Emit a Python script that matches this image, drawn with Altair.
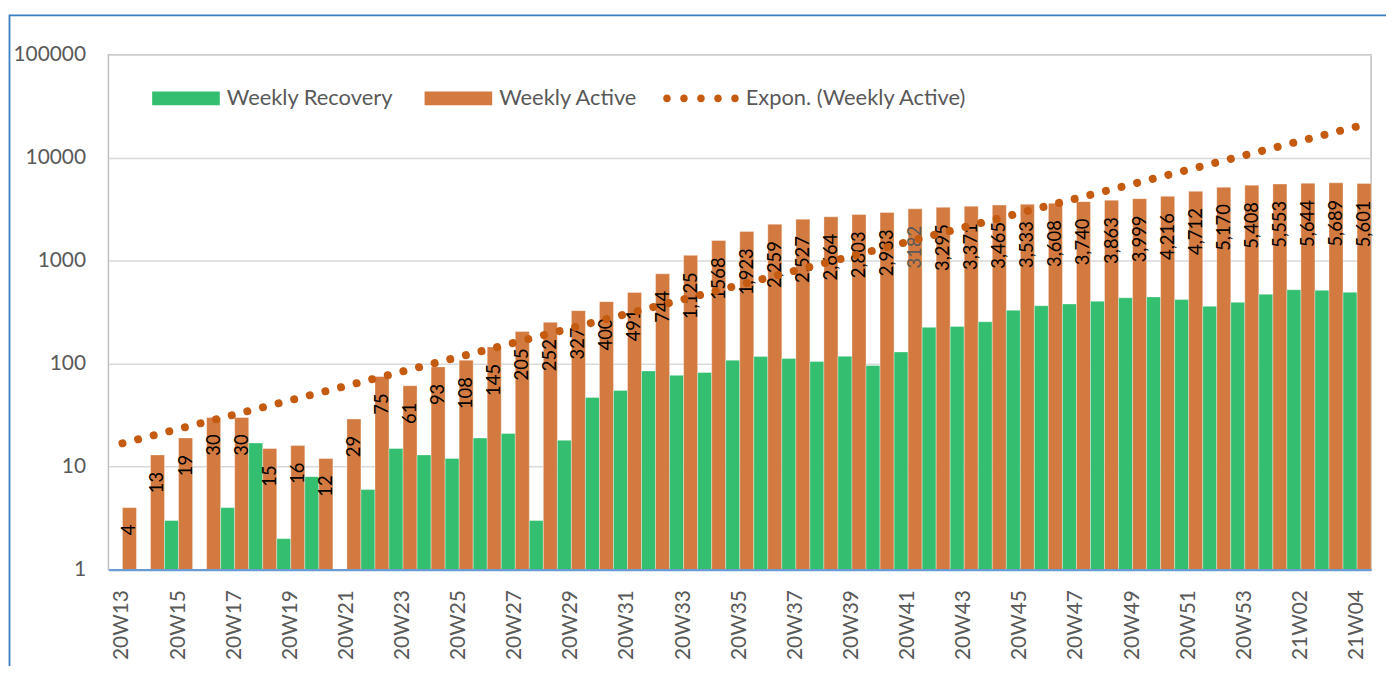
import altair as alt
import pandas as pd

weeks = ["20W13", "20W14", "20W15", "20W16", "20W17", "20W18", "20W19", "20W20",
         "20W21", "20W22", "20W23", "20W24", "20W25", "20W26", "20W27", "20W28",
         "20W29", "20W30", "20W31", "20W32", "20W33", "20W34", "20W35", "20W36",
         "20W37", "20W38", "20W39", "20W40", "20W41", "20W42", "20W43", "20W44",
         "20W45", "20W46", "20W47", "20W48", "20W49", "20W50", "20W51", "20W52",
         "20W53", "21W01", "21W02", "21W03", "21W04"]

weekly_recovery = [None, None, 3, None, 4, 17, 2, 8, None, 6, 15, 13, 12, 19, 21, 3,
                   18, 47, 55, 85, 77, 82, 108, 117, 112, 105, 118, 96, 130, 225, 230,
                   255, 330, 365, 380, 404, 436, 444, 419, 360, 394, 472, 522, 515, 493]

weekly_active = [4, 13, 19, 30, 30, 15, 16, 12, 29, 75, 61, 93, 108, 145, 205, 252,
                 327, 400, 491, 744, 1125, 1568, 1923, 2259, 2527, 2664, 2803, 2933,
                 3182, 3295, 3371, 3465, 3533, 3608, 3740, 3863, 3999, 4216, 4712,
                 5170, 5408, 5553, 5644, 5689, 5601]

active_labels = ["4", "13", "19", "30", "30", "15", "16", "12", "29", "75", "61", "93",
                 "108", "145", "205", "252", "327", "400", "491", "744", "1,125", "1568",
                 "1,923", "2,259", "2,527", "2,664", "2,803", "2,933", "3182", "3,295",
                 "3,371", "3,465", "3,533", "3,608", "3,740", "3,863", "3,999", "4,216",
                 "4,712", "5,170", "5,408", "5,553", "5,644", "5,689", "5,601"]

tick_weeks = ["20W13", "20W15", "20W17", "20W19", "20W21", "20W23", "20W25", "20W27",
              "20W29", "20W31", "20W33", "20W35", "20W37", "20W39", "20W41", "20W43",
              "20W45", "20W47", "20W49", "20W51", "20W53", "21W02", "21W04"]

y_ticks = [1, 10, 100, 1000, 10000, 100000]

series_names = ["Weekly Recovery", "Weekly Active"]
trend_name = "Expon. (Weekly Active)"

GREEN = "#33BF6F"
ORANGE = "#D27A40"
TREND = "#C55A11"
FONT = "Lato"

# wide table (labels + trend)
df = pd.DataFrame({
    "week": weeks,
    "active": weekly_active,
    "label": active_labels,
})

# long table (bars)
long_rows = []
for w, r, a in zip(weeks, weekly_recovery, weekly_active):
    if r is not None:
        long_rows.append({"week": w, "series": series_names[0], "value": r})
    long_rows.append({"week": w, "series": series_names[1], "value": a})
df_long = pd.DataFrame(long_rows)

x_scale = alt.Scale(type="band", domain=weeks, paddingInner=0, paddingOuter=0,
                    round=False, align=0.5)
y_scale = alt.Scale(type="log", domain=[1, 100000], nice=False)

x_axis = alt.Axis(values=tick_weeks, labelAngle=270, labelPadding=20, ticks=False,
                  domainColor="#6A9BD3", domainWidth=2.2, grid=False, title=None,
                  labelFont=FONT, labelFontSize=21, labelColor="#595959", zindex=2)
y_axis = alt.Axis(values=y_ticks, format="d", ticks=False, domain=False, grid=True,
                  gridColor="#D9D9D9", gridWidth=1.5, labelPadding=23, title=None,
                  labelFont=FONT, labelFontSize=21, labelColor="#595959")

bar_symbol = "M-1,-0.2H1V0.2H-1Z"
dot_symbol = ("M-1,0a0.1,0.1 0 1,0 0.2,0a0.1,0.1 0 1,0 -0.2,0Z"
              "M-0.55,0a0.1,0.1 0 1,0 0.2,0a0.1,0.1 0 1,0 -0.2,0Z"
              "M-0.1,0a0.1,0.1 0 1,0 0.2,0a0.1,0.1 0 1,0 -0.2,0Z"
              "M0.35,0a0.1,0.1 0 1,0 0.2,0a0.1,0.1 0 1,0 -0.2,0Z"
              "M0.8,0a0.1,0.1 0 1,0 0.2,0a0.1,0.1 0 1,0 -0.2,0Z")

bars = alt.Chart(df_long).mark_bar(stroke="#FFFFFF", strokeWidth=0.6, strokeOpacity=0.6).encode(
    x=alt.X("week:N", scale=x_scale, axis=x_axis, sort=weeks),
    xOffset=alt.XOffset("series:N", sort=series_names,
                        scale=alt.Scale(domain=series_names, paddingInner=0,
                                        paddingOuter=0, round=False)),
    y=alt.Y("value:Q", scale=y_scale, axis=y_axis),
    y2=alt.datum(1),
    color=alt.Color("series:N",
                    scale=alt.Scale(domain=series_names, range=[GREEN, ORANGE]),
                    legend=alt.Legend(orient="none", legendX=44, legendY=10,
                                      direction="horizontal", title=None,
                                      symbolType=bar_symbol, symbolSize=4624,
                                      symbolStrokeWidth=0, labelOffset=7,
                                      columnPadding=31, labelFont=FONT,
                                      labelFontSize=22, labelColor="#595959",
                                      labelLimit=400)),
)

labels = alt.Chart(df).mark_text(angle=270, align="right", baseline="middle", dx=-17,
                                 font=FONT, fontSize=18.5).encode(
    x=alt.X("week:N", scale=x_scale, sort=weeks, bandPosition=0.75),
    y=alt.Y("active:Q", scale=y_scale),
    text=alt.Text("label:N"),
    color=alt.condition("datum.week == '20W41'", alt.value("#595959"), alt.value("#000000")),
)

trend = alt.Chart(df).transform_window(
    idx="row_number()"
).transform_calculate(
    ly="log(datum.active) / LN10",
).transform_calculate(
    xly="datum.idx * datum.ly",
    xx="datum.idx * datum.idx",
).transform_joinaggregate(
    sx="sum(idx)", sy="sum(ly)", sxy="sum(xly)", sxx="sum(xx)", n="count()"
).transform_calculate(
    b="(datum.n * datum.sxy - datum.sx * datum.sy) / (datum.n * datum.sxx - datum.sx * datum.sx)"
).transform_calculate(
    a="(datum.sy - datum.b * datum.sx) / datum.n"
).transform_calculate(
    trend="pow(10, datum.a + datum.b * datum.idx)"
).mark_line(strokeDash=[0.01, 16.2], strokeCap="round", strokeWidth=8, color=TREND).encode(
    x=alt.X("week:N", scale=x_scale, sort=weeks, bandPosition=0.5),
    y=alt.Y("trend:Q", scale=y_scale),
)

# legend-only layer for the trendline (no rows drawn)
trend_key = alt.Chart(df).transform_filter("false").transform_calculate(
    tname="'" + trend_name + "'"
).mark_circle().encode(
    x=alt.X("week:N", scale=x_scale, sort=weeks),
    y=alt.Y("active:Q", scale=y_scale),
    color=alt.Color("tname:N",
                    scale=alt.Scale(domain=[trend_name], range=[TREND]),
                    legend=alt.Legend(orient="none", legendX=558, legendY=6,
                                      title=None, symbolType=dot_symbol,
                                      symbolSize=5776, symbolStrokeWidth=0,
                                      symbolFillColor=TREND, symbolOpacity=1,
                                      labelOffset=7,
                                      labelFont=FONT, labelFontSize=22,
                                      labelColor="#595959", labelLimit=400)),
)

frame = alt.Chart(pd.DataFrame({"k": [0]})).mark_rect(
    fill="transparent", stroke="#3A7DC0", strokeWidth=1.8, clip=False
).encode(
    x=alt.value(-99.5), x2=alt.value(1400), y=alt.value(-39.5), y2=alt.value(700)
)

chart = alt.layer(frame, bars, labels, trend, trend_key).resolve_scale(
    color="independent"
).properties(
    width=1270, height=518,
    autosize=alt.AutoSizeParams(type="none"),
    padding={"left": 101, "top": 45, "right": 15, "bottom": 95},
).configure_view(
    stroke="#BFBFBF", strokeWidth=1.5
)

chart.save("out.html", embed_options={"renderer": "svg", "actions": False})
